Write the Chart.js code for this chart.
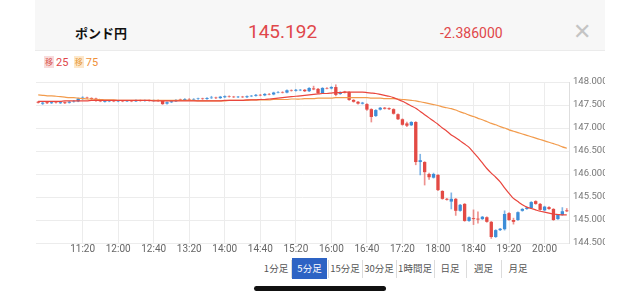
<!DOCTYPE html>
<html>
<head>
    <meta charset="UTF-8">
    <title>ポンド円 5分足</title>
    <script src="https://cdn.jsdelivr.net/npm/chart.js"></script>
    <style>
        body { margin: 0; width: 640px; height: 296px; background: #fff; position: relative; overflow: hidden;
               font-family: "Helvetica Neue", Roboto, "Noto Sans CJK JP", sans-serif; }
        #head { position: absolute; left: 35px; top: 0; width: 570px; height: 50px; background: #f7f7f7; border-bottom: 1px solid #ebebeb; }
        #head span { position: absolute; top: 24px; line-height: 18px; }
        #name { left: 40px; font-size: 13px; font-weight: bold; color: #111; font-family: "Noto Sans CJK JP", sans-serif; }
        #price { left: 213px; font-size: 19px; color: #e0474a; top: 23px !important; }
        #diff { left: 405px; font-size: 14px; color: #e0474a; }
        #close { left: 538px; font-size: 22px; color: #c4c4c4; top: 23px !important; font-weight: 300; }
        #ma { position: absolute; left: 44px; top: 56px; font-size: 11px; line-height: 14px; }
        #ma b { display: inline-block; font-weight: normal; font-size: 8px; width: 10px; height: 12px; line-height: 12px; text-align: center;
                font-family: "Noto Sans CJK JP", sans-serif; vertical-align: 1px; margin-right: 2px; }
        #levels { position: absolute; left: 30px; top: 70px; }
        #tf span { position: absolute; top: 258px; height: 21px; line-height: 21px; font-size: 9.5px; color: #555; text-align: center;
                   font-family: "Noto Sans CJK JP", sans-serif; }
        #tf span.on { background: #2d63c4; color: #fff; }
        #tf i { position: absolute; top: 260px; width: 1px; height: 18px; background: #dcdcdc; }
        #bar { position: absolute; left: 254px; top: 286px; width: 132px; height: 5px; border-radius: 3px; background: #111; }
    </style>
</head>
<body>
<div id="head">
    <span id="name">ポンド円</span>
    <span id="price">145.192</span>
    <span id="diff">-2.386000</span>
    <span id="close">✕</span>
</div>
<div id="ma">
    <b style="background:#f8dcdc;color:#d9534f">移</b><span style="color:#e0474a">25</span>
    &nbsp;<b style="background:#fde8cb;color:#e69a3c">移</b><span style="color:#f0913a">75</span>
</div>
<canvas id="levels" width="575" height="185"></canvas>
<div id="tf">
    <span style="left:262px;width:28px">1分足</span>
    <i style="left:291px"></i>
    <span class="on" style="left:292px;width:35px">5分足</span>
    <i style="left:328px"></i>
    <span style="left:329px;width:32px">15分足</span>
    <i style="left:362px"></i>
    <span style="left:363px;width:32px">30分足</span>
    <i style="left:396px"></i>
    <span style="left:397px;width:36px">1時間足</span>
    <i style="left:434px"></i>
    <span style="left:435px;width:30px">日足</span>
    <i style="left:466px"></i>
    <span style="left:467px;width:33px">週足</span>
    <i style="left:501px"></i>
    <span style="left:502px;width:32px">月足</span>
</div>
<div id="bar"></div>
<script>
    const times = [
        '10:30','10:35','10:40','10:45','10:50','10:55',
        '11:00','11:05','11:10','11:15','11:20','11:25','11:30','11:35','11:40','11:45','11:50','11:55',
        '12:00','12:05','12:10','12:15','12:20','12:25','12:30','12:35','12:40','12:45','12:50','12:55',
        '13:00','13:05','13:10','13:15','13:20','13:25','13:30','13:35','13:40','13:45','13:50','13:55',
        '14:00','14:05','14:10','14:15','14:20','14:25','14:30','14:35','14:40','14:45','14:50','14:55',
        '15:00','15:05','15:10','15:15','15:20','15:25','15:30','15:35','15:40','15:45','15:50','15:55',
        '16:00','16:05','16:10','16:15','16:20','16:25','16:30','16:35','16:40','16:45','16:50','16:55',
        '17:00','17:05','17:10','17:15','17:20','17:25','17:30','17:35','17:40','17:45','17:50','17:55',
        '18:00','18:05','18:10','18:15','18:20','18:25','18:30','18:35','18:40','18:45','18:50','18:55',
        '19:00','19:05','19:10','19:15','19:20','19:25','19:30','19:35','19:40','19:45','19:50','19:55',
        '20:00','20:05','20:10','20:15','20:20','20:25'
    ];
    const tickTimes = ['11:20','12:00','12:40','13:20','14:00','14:40','15:20','16:00','16:40','17:20','18:00','18:40','19:20','20:00'];
    const priceTicks = [144.5, 145, 145.5, 146, 146.5, 147, 147.5, 148];

    const opens = [
        147.57,147.53,147.56,147.54,147.56,147.54,147.56,147.55,147.57,147.58,
        147.63,147.66,147.65,147.64,147.59,147.57,147.58,147.59,147.58,147.59,
        147.58,147.59,147.58,147.60,147.59,147.60,147.59,147.60,147.59,147.53,
        147.56,147.58,147.62,147.61,147.63,147.62,147.63,147.64,147.63,147.65,
        147.66,147.65,147.67,147.69,147.68,147.67,147.68,147.67,147.69,147.70,
        147.72,147.71,147.74,147.73,147.77,147.78,147.77,147.82,147.81,147.82,
        147.83,147.80,147.86,147.85,147.76,147.87,147.86,147.89,147.74,147.79,
        147.78,147.61,147.57,147.53,147.52,147.41,147.26,147.40,147.44,147.43,
        147.41,147.30,147.19,147.10,147.06,147.13,146.26,146.26,146.00,145.92,
        145.98,145.63,145.46,145.40,145.46,145.20,145.35,144.98,145.04,145.03,
        145.02,145.06,144.96,144.63,144.78,144.80,145.15,145.00,145.00,145.20,
        145.24,145.26,145.41,145.35,145.21,145.28,145.24,145.02,145.11,145.21
    ];
    const closes = [
        147.55,147.55,147.54,147.56,147.55,147.56,147.54,147.57,147.58,147.64,
        147.66,147.65,147.63,147.59,147.58,147.59,147.59,147.58,147.59,147.58,
        147.59,147.58,147.60,147.59,147.60,147.59,147.60,147.59,147.52,147.56,
        147.58,147.61,147.61,147.63,147.62,147.63,147.64,147.63,147.65,147.66,
        147.65,147.68,147.69,147.68,147.67,147.68,147.67,147.69,147.70,147.72,
        147.71,147.74,147.73,147.77,147.78,147.77,147.82,147.81,147.83,147.83,
        147.80,147.87,147.84,147.76,147.87,147.86,147.89,147.72,147.78,147.77,
        147.61,147.57,147.53,147.55,147.40,147.24,147.39,147.44,147.42,147.41,
        147.31,147.19,147.07,147.05,147.13,146.26,146.30,146.04,145.93,146.00,
        145.65,145.46,145.44,145.46,145.20,145.33,144.98,145.06,145.02,145.01,
        145.07,144.96,144.63,144.78,144.81,145.13,145.00,144.96,145.17,145.24,
        145.27,145.39,145.35,145.22,145.29,145.24,145.00,145.11,145.19,145.19
    ];
    const highs = [
        147.58,147.56,147.57,147.57,147.57,147.57,147.57,147.58,147.60,147.65,
        147.68,147.67,147.66,147.65,147.60,147.60,147.60,147.60,147.60,147.60,
        147.60,147.60,147.61,147.61,147.61,147.61,147.61,147.61,147.60,147.57,
        147.59,147.62,147.63,147.64,147.64,147.64,147.65,147.65,147.66,147.69,
        147.67,147.69,147.70,147.70,147.69,147.69,147.69,147.70,147.71,147.73,
        147.73,147.75,147.75,147.78,147.79,147.79,147.83,147.83,147.84,147.84,
        147.84,147.88,147.91,147.86,147.88,147.88,147.90,147.94,147.79,147.80,
        147.79,147.62,147.58,147.56,147.53,147.42,147.40,147.45,147.45,147.44,
        147.42,147.31,147.20,147.13,147.14,147.14,146.43,146.27,146.02,146.02,
        145.99,145.64,145.47,145.59,145.47,145.34,145.36,145.07,145.22,145.18,
        145.08,145.07,144.97,144.79,144.82,145.20,145.16,145.04,145.18,145.25,
        145.28,145.40,145.42,145.36,145.30,145.29,145.25,145.12,145.27,145.25
    ];
    const lows = [
        147.54,147.51,147.53,147.53,147.54,147.53,147.53,147.54,147.56,147.57,
        147.62,147.64,147.62,147.58,147.57,147.56,147.57,147.57,147.57,147.57,
        147.57,147.57,147.57,147.58,147.58,147.58,147.58,147.58,147.51,147.52,
        147.55,147.57,147.60,147.60,147.61,147.61,147.62,147.62,147.62,147.64,
        147.64,147.64,147.66,147.67,147.66,147.66,147.66,147.66,147.68,147.69,
        147.70,147.70,147.72,147.72,147.76,147.76,147.76,147.80,147.80,147.81,
        147.79,147.79,147.83,147.75,147.75,147.85,147.85,147.70,147.73,147.76,
        147.60,147.56,147.52,147.52,147.38,147.13,147.25,147.39,147.41,147.40,
        147.30,147.18,147.06,147.03,147.05,146.20,145.98,145.76,145.88,145.91,
        145.64,145.45,145.43,145.24,145.10,145.19,144.97,144.97,144.90,144.93,
        145.01,144.95,144.60,144.62,144.77,144.78,144.99,144.91,144.99,145.19,
        145.23,145.25,145.34,145.21,145.20,145.23,144.99,145.01,145.10,145.18
    ];
    const ma25 = [
        147.58,147.58,147.58,147.58,147.58,147.58,147.59,147.59,147.59,147.59,
        147.59,147.59,147.60,147.60,147.60,147.60,147.60,147.60,147.60,147.60,
        147.60,147.60,147.60,147.60,147.60,147.60,147.59,147.59,147.59,147.59,
        147.59,147.59,147.59,147.59,147.59,147.59,147.59,147.59,147.59,147.59,
        147.59,147.59,147.60,147.60,147.60,147.60,147.60,147.61,147.61,147.61,
        147.62,147.62,147.63,147.64,147.65,147.66,147.67,147.68,147.69,147.70,
        147.71,147.72,147.73,147.74,147.75,147.75,147.76,147.77,147.77,147.78,
        147.78,147.78,147.78,147.78,147.77,147.76,147.75,147.73,147.71,147.69,
        147.66,147.62,147.58,147.53,147.48,147.43,147.36,147.29,147.22,147.15,
        147.08,147.00,146.93,146.85,146.79,146.72,146.65,146.58,146.47,146.36,
        146.24,146.12,146.02,145.93,145.83,145.70,145.58,145.47,145.40,145.33,
        145.28,145.25,145.22,145.19,145.17,145.15,145.13,145.12,145.11,145.11
    ];
    const ma75 = [
        147.72,147.71,147.70,147.70,147.69,147.68,147.67,147.66,147.66,147.65,
        147.64,147.63,147.63,147.62,147.62,147.61,147.61,147.61,147.60,147.60,
        147.60,147.60,147.60,147.60,147.60,147.60,147.60,147.60,147.60,147.60,
        147.60,147.60,147.60,147.60,147.60,147.60,147.59,147.59,147.59,147.59,
        147.59,147.59,147.59,147.60,147.60,147.60,147.60,147.60,147.61,147.61,
        147.61,147.61,147.61,147.62,147.62,147.62,147.62,147.63,147.63,147.63,
        147.64,147.64,147.64,147.65,147.65,147.65,147.65,147.66,147.66,147.66,
        147.66,147.66,147.66,147.66,147.66,147.65,147.65,147.65,147.64,147.64,
        147.64,147.63,147.62,147.61,147.60,147.59,147.57,147.55,147.53,147.51,
        147.49,147.46,147.44,147.42,147.39,147.35,147.32,147.28,147.25,147.21,
        147.18,147.14,147.10,147.07,147.03,147.00,146.96,146.93,146.90,146.87,
        146.84,146.81,146.78,146.75,146.72,146.69,146.66,146.63,146.59,146.56
    ];

    const upColor = '#3d8ed8';
    const downColor = '#e34a44';
    const upWick = 'rgba(61,142,216,0.65)';
    const downWick = 'rgba(227,74,68,0.6)';
    const isUp = i => closes[i] >= opens[i];

    const bodies = opens.map((o, i) => [o, closes[i]]);
    const wicks = lows.map((l, i) => [l, highs[i]]);

    const gridColor = '#ececec';

    const config = {
        type: 'bar',
        data: {
            labels: times,
            datasets: [
                {
                    type: 'line', label: '移25', data: ma25, borderColor: '#e9453d', borderWidth: 1.2,
                    pointRadius: 0, tension: 0.2, order: 0
                },
                {
                    type: 'line', label: '移75', data: ma75, borderColor: '#f29b4c', borderWidth: 1.2,
                    pointRadius: 0, tension: 0.2, order: 0
                },
                {
                    label: 'body', data: bodies, grouped: false, order: 1,
                    backgroundColor: bodies.map((b, i) => isUp(i) ? upColor : downColor),
                    barPercentage: 0.75, categoryPercentage: 1
                },
                {
                    label: 'wick', data: wicks, grouped: false, order: 2,
                    backgroundColor: wicks.map((w, i) => isUp(i) ? upWick : downWick),
                    barThickness: 1
                }
            ]
        },
        options: {
            responsive: false,
            animation: false,
            layout: { padding: { left: 6, top: 12, right: 0, bottom: 0 } },
            plugins: { legend: { display: false }, tooltip: { enabled: false } },
            scales: {
                x: {
                    offset: true,
                    border: { display: false },
                    grid: {
                        offset: false,
                        drawTicks: false,
                        color: c => tickTimes.includes(times[c.index]) ? gridColor : 'rgba(0,0,0,0)'
                    },
                    ticks: {
                        autoSkip: false, maxRotation: 0, padding: 0, color: '#666',
                        font: { size: 10, family: 'Helvetica Neue, Roboto, sans-serif' },
                        callback: function (v) {
                            const l = this.getLabelForValue(v);
                            return tickTimes.includes(l) ? l : '';
                        }
                    }
                },
                y: {
                    position: 'right',
                    min: priceTicks[0], max: priceTicks[priceTicks.length - 1],
                    afterFit: s => { s.width = 36; },
                    border: { color: '#dedede' },
                    grid: { drawTicks: false, color: gridColor },
                    ticks: {
                        stepSize: 0.5, padding: 4, color: '#777',
                        font: { size: 9.5, family: 'Helvetica Neue, Roboto, sans-serif' },
                        callback: v => v.toFixed(3)
                    }
                }
            }
        }
    };

    var ctx = document.getElementById('levels').getContext('2d');
    window.chart = new Chart(ctx, config);
</script>
</body>
</html>
